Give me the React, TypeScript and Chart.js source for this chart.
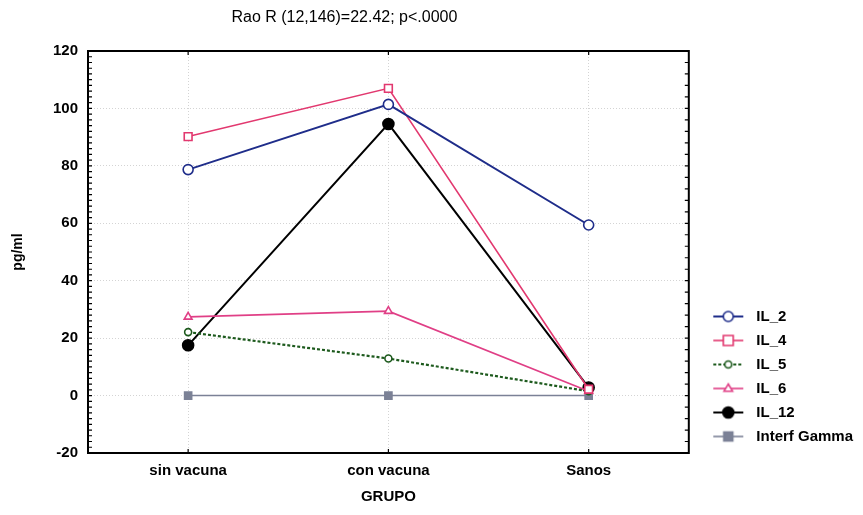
import React, { useEffect, useRef } from "react";
import { Chart, registerables } from "chart.js";
Chart.register(...registerables);

const categories = ["sin vacuna", "con vacuna", "Sanos"];
const il2 = [78.7, 101.4, 59.4];
const il4 = [90.2, 107, 2.2];
const il5 = [22.1, 12.9, 1.5];
const il6 = [27.4, 29.4, 1.5];
const il12 = [17.5, 94.6, 2.8];
const interfGamma = [0, 0, 0];
const seriesLabels = ["IL_2", "IL_4", "IL_5", "IL_6", "IL_12", "Interf Gamma"];
const yMin = -20;
const yMax = 120;
const yStep = 20;
const titleText = "Rao R (12,146)=22.42; p<.0000";
const xTitle = "GRUPO";
const yTitle = "pg/ml";

const FONT = "'Liberation Sans', Arial, sans-serif";

type Style = {
  color: string;
  fill: string;
  width: number;
  dash: number[];
  point: "circle" | "rect" | "triangle";
  radius: number;
};

const styles: Style[] = [
  { color: "#1f2d8a", fill: "#ffffff", width: 2, dash: [], point: "circle", radius: 5 },
  { color: "#e2386f", fill: "#ffffff", width: 1.6, dash: [], point: "rect", radius: 5.5 },
  { color: "#1d5a1d", fill: "#ffffff", width: 2.2, dash: [3, 2], point: "circle", radius: 3.5 },
  { color: "#e03f86", fill: "#ffffff", width: 1.6, dash: [], point: "triangle", radius: 4.5 },
  { color: "#000000", fill: "#000000", width: 2, dash: [], point: "circle", radius: 5.5 },
  { color: "#7b8196", fill: "#7b8196", width: 1.6, dash: [], point: "rect", radius: 5 },
];

const seriesData = [il2, il4, il5, il6, il12, interfGamma];

function drawMarker(ctx: CanvasRenderingContext2D, s: Style, x: number, y: number) {
  ctx.save();
  ctx.setLineDash([]);
  ctx.lineWidth = 1.6;
  ctx.strokeStyle = s.color;
  ctx.fillStyle = s.fill;
  ctx.beginPath();
  const r = s.radius;
  if (s.point === "circle") {
    ctx.arc(x, y, r, 0, Math.PI * 2);
  } else if (s.point === "rect") {
    const h = r * 0.9;
    ctx.rect(x - h, y - h, 2 * h, 2 * h);
  } else {
    ctx.moveTo(x, y - r);
    ctx.lineTo(x + r * 0.95, y + r * 0.6);
    ctx.lineTo(x - r * 0.95, y + r * 0.6);
    ctx.closePath();
  }
  ctx.fill();
  ctx.stroke();
  ctx.restore();
}

function makeIcon(s: Style): HTMLCanvasElement {
  const c = document.createElement("canvas");
  c.width = 54;
  c.height = 16;
  const ctx = c.getContext("2d")!;
  const x0 = 17;
  const x1 = 47;
  ctx.strokeStyle = s.color;
  ctx.lineWidth = s.width;
  ctx.setLineDash(s.dash);
  ctx.beginPath();
  ctx.moveTo(x0, 8);
  ctx.lineTo(x1, 8);
  ctx.stroke();
  drawMarker(ctx, s, (x0 + x1) / 2, 8);
  return c;
}

const framePlugin = {
  id: "frame",
  afterDraw(chart: any) {
    const ctx = chart.ctx as CanvasRenderingContext2D;
    const { left, right, top, bottom } = chart.chartArea;
    const ys = chart.scales.y;
    const xs = chart.scales.x;
    ctx.save();
    ctx.strokeStyle = "#000";
    ctx.lineWidth = 1.2;
    ctx.beginPath();
    for (let v = yMin; v <= yMax; v += 2) {
      const py = ys.getPixelForValue(v);
      ctx.moveTo(left, py);
      ctx.lineTo(left + 4, py);
    }
    for (let v = yMin; v <= yMax; v += 4) {
      const py = ys.getPixelForValue(v);
      ctx.moveTo(right, py);
      ctx.lineTo(right - 4, py);
    }
    categories.forEach((_, i) => {
      const px = xs.getPixelForValue(i);
      ctx.moveTo(px, bottom);
      ctx.lineTo(px, bottom - 4);
      ctx.moveTo(px, top);
      ctx.lineTo(px, top + 4);
    });
    ctx.stroke();
    ctx.lineWidth = 2;
    ctx.strokeRect(left, top, right - left, bottom - top);
    ctx.fillStyle = "#000";
    ctx.font = `16px ${FONT}`;
    ctx.textAlign = "center";
    ctx.textBaseline = "middle";
    ctx.fillText(titleText, (left + right) / 2 - 44, 18);
    ctx.restore();
  },
};

export default function App() {
  const ref = useRef<HTMLCanvasElement | null>(null);
  useEffect(() => {
    if (!ref.current) return;
    const icons = styles.map(makeIcon);
    const datasets = seriesData.map((d, i) => {
      const s = styles[i];
      return {
        label: seriesLabels[i],
        data: d,
        borderColor: s.color,
        backgroundColor: s.fill,
        borderWidth: s.width,
        borderDash: s.dash,
        pointStyle: s.point,
        pointRadius: s.radius,
        pointBorderWidth: 1.6,
        pointBackgroundColor: s.fill,
        pointBorderColor: s.color,
        tension: 0,
        fill: false,
      };
    });
    const chart = new Chart(ref.current, {
      type: "line",
      data: { labels: categories, datasets: datasets as any },
      options: {
        animation: false,
        responsive: false,
        devicePixelRatio: 1,
        layout: { padding: { top: 51, left: 0, right: 0, bottom: 0 } },
        plugins: {
          tooltip: { enabled: false },
          title: { display: false },
          legend: {
            position: "right",
            align: "end",
            fullSize: false,
            labels: {
              usePointStyle: true,
              pointStyleWidth: 51,
              padding: 9,
              color: "#000",
              font: { family: FONT, size: 15, weight: "bold" },
              generateLabels: () =>
                seriesLabels.map((t, i) => ({
                  text: t,
                  pointStyle: icons[i] as any,
                  datasetIndex: i,
                  hidden: false,
                  lineWidth: 0,
                  fillStyle: "rgba(0,0,0,0)",
                  strokeStyle: "rgba(0,0,0,0)",
                })),
            },
          },
        },
        scales: {
          x: {
            type: "category",
            offset: true,
            afterFit: (s: any) => {
              s.height = 62;
            },
            grid: { offset: false, drawTicks: false, color: "#d4d4d4", lineWidth: 1 },
            border: { display: false, dash: [1, 2] },
            ticks: { color: "#000", padding: 9, font: { family: FONT, size: 15, weight: "bold" } },
            title: {
              display: true,
              text: xTitle,
              color: "#000",
              padding: { top: 8, bottom: 9 },
              font: { family: FONT, size: 15, weight: "bold" },
            },
          },
          y: {
            min: yMin,
            max: yMax,
            afterFit: (s: any) => {
              s.width = 88;
            },
            grid: { drawTicks: false, color: "#d4d4d4", lineWidth: 1 },
            border: { display: false, dash: [1, 2] },
            ticks: {
              stepSize: yStep,
              color: "#000",
              padding: 10,
              font: { family: FONT, size: 15, weight: "bold" },
            },
            title: {
              display: true,
              text: yTitle,
              color: "#000",
              padding: { top: 10, bottom: 0 },
              font: { family: FONT, size: 14, weight: "bold" },
            },
          },
        },
      },
      plugins: [framePlugin],
    });
    return () => chart.destroy();
  }, []);
  return (
    <canvas
      ref={ref}
      width={863}
      height={515}
      style={{ position: "absolute", left: 0, top: 0, display: "block" }}
    />
  );
}
